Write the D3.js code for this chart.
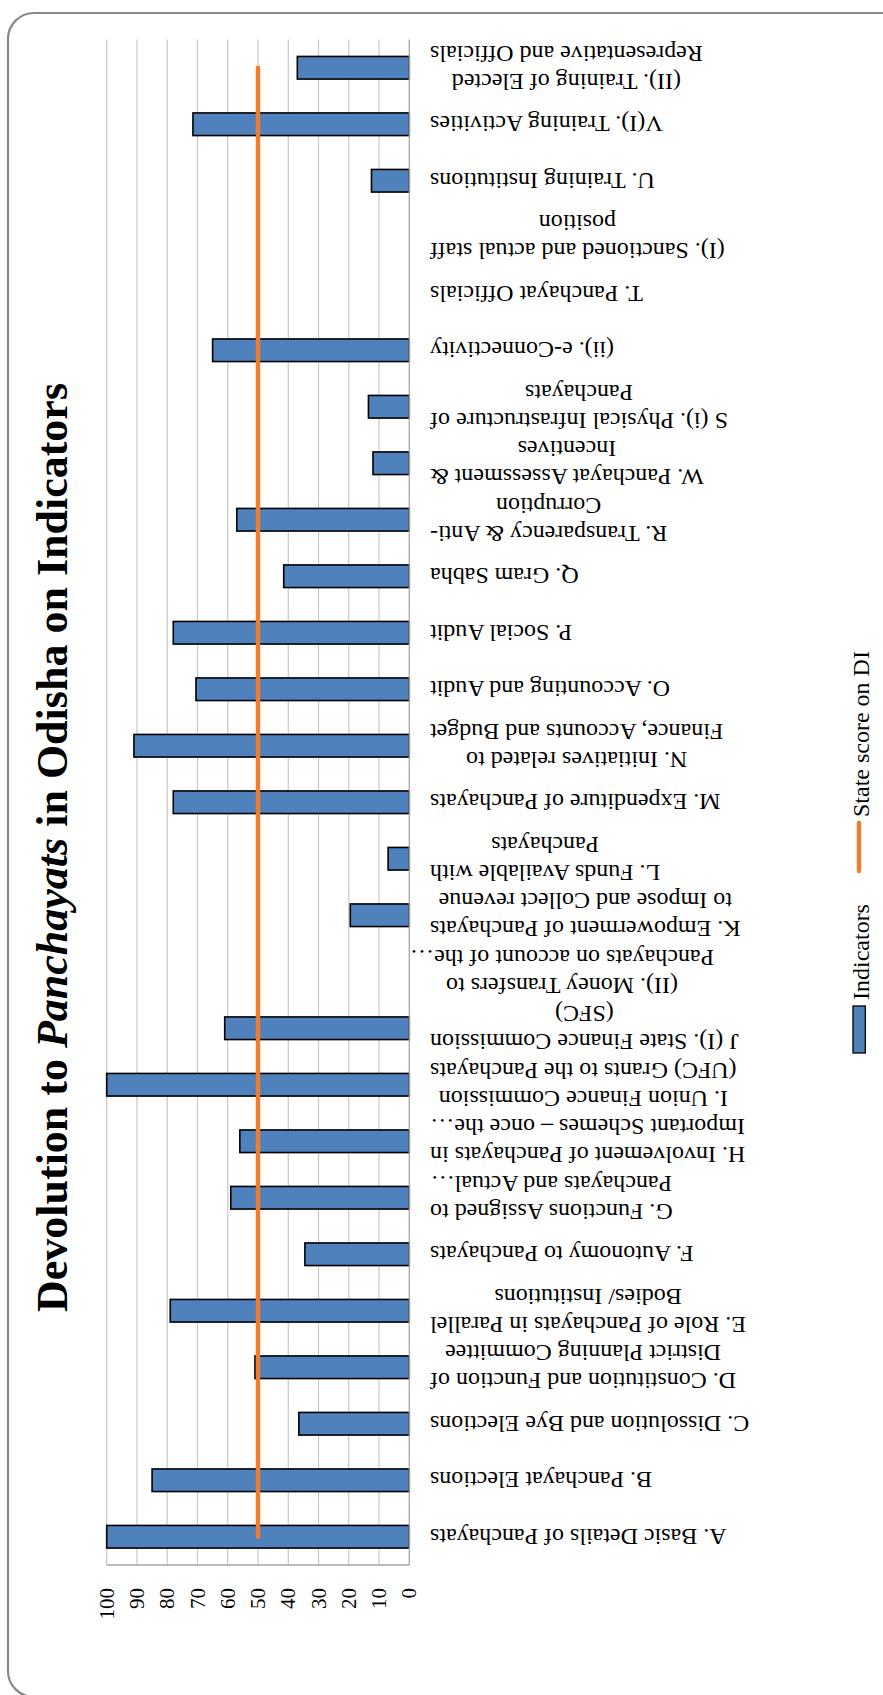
<!DOCTYPE html>
<html>
<head>
<meta charset="utf-8">
<script src="https://cdn.jsdelivr.net/npm/d3@7"></script>
<style>
  html, body { margin: 0; padding: 0; background: #fff; }
  svg { display: block; }
  text { font-family: "Liberation Serif", "Times New Roman", serif; fill: #000; }
</style>
</head>
<body>
<script>
// ---- Data (A at bottom, last item at top) ----
const categories = [
  "A. Basic Details of Panchayats",
  "B. Panchayat Elections",
  "C. Dissolution and Bye Elections",
  "D. Constitution and Function of\nDistrict Planning Committee",
  "E. Role of Panchayats in Parallel\nBodies/ Institutions",
  "F. Autonomy to Panchayats",
  "G. Functions Assigned to\nPanchayats and Actual…",
  "H. Involvement of Panchayats in\nImportant Schemes – once the…",
  "I. Union Finance Commission\n(UFC) Grants to the Panchayats",
  "J (I). State Finance Commission\n(SFC)",
  "(II). Money Transfers to\nPanchayats on account of the…",
  "K. Empowerment of Panchayats\nto Impose and Collect revenue",
  "L. Funds Available with\nPanchayats",
  "M. Expenditure of Panchayats",
  "N. Initiatives related to\nFinance, Accounts and Budget",
  "O. Accounting and Audit",
  "P. Social Audit",
  "Q. Gram Sabha",
  "R. Transparency & Anti-\nCorruption",
  "W. Panchayat Assessment &\nIncentives",
  "S (i). Physical Infrastructure of\nPanchayats",
  "(ii). e-Connectivity",
  "T. Panchayat Officials",
  "(I). Sanctioned and actual staff\nposition",
  "U. Training Institutions",
  "V(I). Training Activities",
  "(II). Training of Elected\nRepresentative and Officials"
];
const indicatorValues = [100, 85, 36.5, 51, 79, 34.5, 59, 56, 100, 61, 0, 19.5, 7, 78, 91, 70.5, 78, 41.5, 57, 12, 13.5, 65, 0, 0, 12.5, 71.5, 37];
const stateScore = [50, 50, 50, 50, 50, 50, 50, 50, 50, 50, 50, 50, 50, 50, 50, 50, 50, 50, 50, 50, 50, 50, 50, 50, 50, 50, 50];
const tickValues = [0, 10, 20, 30, 40, 50, 60, 70, 80, 90, 100];
const seriesNames = ["Indicators", "State score on DI"];
const titleParts = [["Devolution to ", false], ["Panchayats", true], [" in Odisha on Indicators", false]];

// ---- Layout ----
const W = 883, H = 1695;
const svg = d3.select("body").append("svg").attr("width", W).attr("height", H);

// outer rounded border (extends past right/bottom edges)
svg.append("rect")
  .attr("x", 8).attr("y", 13).attr("width", 920).attr("height", 1684)
  .attr("rx", 26).attr("ry", 26)
  .attr("fill", "none").attr("stroke", "#898989").attr("stroke-width", 2.2);

const plotTop = 39.5, plotBottom = 1565;
const x = d3.scaleLinear().domain([0, 100]).range([409.3, 106.7]);
const y = d3.scaleBand().domain(categories).range([plotBottom, plotTop])
  .paddingInner(0.6).paddingOuter(0.3);

// gridlines
svg.append("g").selectAll("line").data(tickValues.filter(d => d > 0)).join("line")
  .attr("x1", d => x(d)).attr("x2", d => x(d))
  .attr("y1", plotTop).attr("y2", plotBottom)
  .attr("stroke", "#C8C8C8").attr("stroke-width", 1.2);

// bars
svg.append("g").selectAll("rect").data(categories).join("rect")
  .attr("x", (d, i) => x(indicatorValues[i]))
  .attr("y", d => y(d))
  .attr("width", (d, i) => x(0) - x(indicatorValues[i]))
  .attr("height", y.bandwidth())
  .attr("fill", "#4F81BD")
  .attr("stroke", (d, i) => indicatorValues[i] > 0 ? "#000" : "none")
  .attr("stroke-width", 1.6);

// axis lines
svg.append("line").attr("x1", x(0)).attr("x2", x(0)).attr("y1", plotTop).attr("y2", plotBottom)
  .attr("stroke", "#A6A6A6").attr("stroke-width", 1.3);
svg.append("line").attr("x1", x(100)).attr("x2", x(0)).attr("y1", plotBottom).attr("y2", plotBottom)
  .attr("stroke", "#A6A6A6").attr("stroke-width", 1.3);

// state score line
const line = d3.line().x((d, i) => x(d)).y((d, i) => y(categories[i]) + y.bandwidth() / 2);
svg.append("path").datum(stateScore).attr("d", line)
  .attr("fill", "none").attr("stroke", "#ED7D31").attr("stroke-width", 4.5)
  .attr("stroke-linecap", "round");

// value tick labels (rotated -90)
svg.append("g").selectAll("text").data(tickValues).join("text")
  .attr("transform", d => `translate(${x(d)},1588) rotate(-90)`)
  .attr("text-anchor", "end").attr("dy", "0.34em")
  .attr("font-size", 21)
  .text(d => d);

// category labels (rotated 180)
const labelLeft = 430, lineH = 28;
const lg = svg.append("g");
categories.forEach((c, i) => {
  const lines = c.split("\n");
  const g = lg.append("g");
  const t = g.append("text").attr("font-size", 24).attr("text-anchor", "middle");
  lines.forEach((ln, k) => {
    t.append("tspan").attr("x", 0)
      .attr("y", (k - (lines.length - 1) / 2) * lineH)
      .attr("dy", "0.33em").text(ln);
  });
  let maxW = 0, widest = "";
  t.selectAll("tspan").each(function () {
    const w = this.getComputedTextLength();
    if (w > maxW) { maxW = w; widest = this.textContent; }
  });
  const shift = widest.endsWith("…") ? 20 : 0;
  const cx = labelLeft + maxW / 2 - shift;
  const cy = y(c) + y.bandwidth() / 2;
  g.attr("transform", `translate(${cx},${cy}) rotate(180)`);
});

// title
const title = svg.append("text")
  .attr("transform", "translate(67,847.5) rotate(-90)")
  .attr("text-anchor", "middle")
  .attr("font-size", 44).attr("font-weight", "bold");
titleParts.forEach(([s, it]) => {
  title.append("tspan").attr("font-style", it ? "italic" : "normal").text(s);
});

// legend
const leg = svg.append("g");
leg.append("rect").attr("x", 853).attr("y", 1006).attr("width", 12.3).attr("height", 47)
  .attr("fill", "#4F81BD").attr("stroke", "#000").attr("stroke-width", 1.3);
leg.append("text").attr("transform", "translate(868.5,1000) rotate(-90)")
  .attr("font-size", 24).text(seriesNames[0]);
leg.append("line").attr("x1", 859).attr("x2", 859).attr("y1", 823).attr("y2", 871)
  .attr("stroke", "#ED7D31").attr("stroke-width", 4.5).attr("stroke-linecap", "round");
leg.append("text").attr("transform", "translate(868.5,817) rotate(-90)")
  .attr("font-size", 24).text(seriesNames[1]);
</script>
</body>
</html>
